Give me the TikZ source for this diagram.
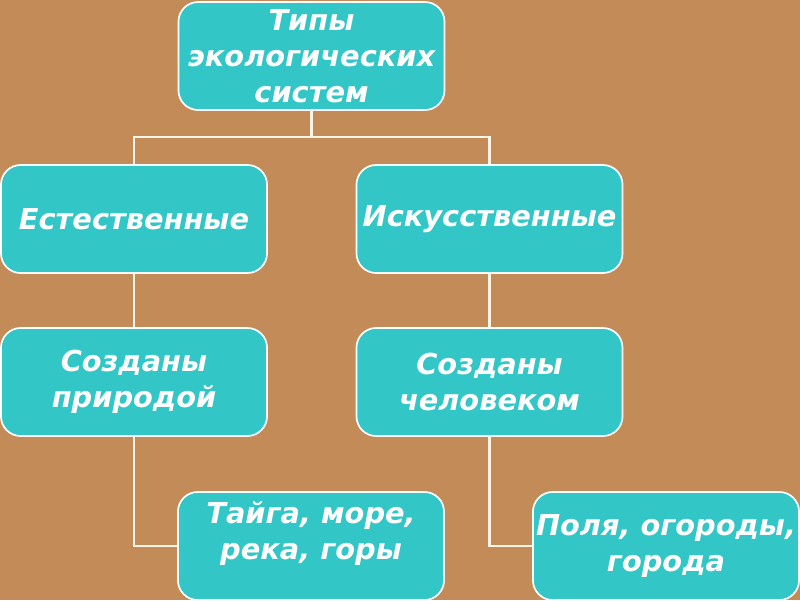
\documentclass[tikz,border=0pt]{standalone}
\usepackage{fontspec}
\setmainfont{DejaVu Sans}
\definecolor{sand}{RGB}{194,139,88}
\definecolor{sea}{RGB}{51,198,198}
\definecolor{cream}{RGB}{252,244,228}
\begin{document}
\begin{tikzpicture}[
  x=0.025cm, y=-0.025cm,
  every node/.style = {shape=rectangle, rounded corners=14pt, draw=white,
    line width=1.2pt, fill=sea, text=white, align=center, inner sep=2pt,
    font=\fontsize{20.5}{25.5}\selectfont\bfseries\itshape},
  box/.style = {minimum width=6.65cm, minimum height=2.7cm},
  link/.style = {draw=cream, line width=1.8pt}
  ]
  \fill[sand] (0,0) rectangle (800,600);
  \useasboundingbox (0,0) rectangle (800,600);
  % top level
  \node[box] (top) at (311.5,56) {Типы\\экологических\\систем};
  % two kinds
  \node[box] (nat) at (134,219) {Естественные};
  \node[box] (art) at (489.5,219) {Искусственные};
  \node[box] (natby) at (134,382) {Созданы\\природой};
  \node[box] (artby) at (489.5,382) {Созданы\\человеком};
  % examples
  \node[box, text height=45pt, text depth=25.5pt] (natex) at (311,546) {Тайга, море,\\река, горы};
  \node[box] (artex) at (666,546) {Поля, огороды,\\города};
  % links
  \draw[link] (top.south) -- ++(0,26) -| (nat.north);
  \draw[link] (top.south) -- ++(0,26) -| (art.north);
  \draw[link] (nat.south) -- (natby.north);
  \draw[link] (art.south) -- (artby.north);
  \draw[link] (natby.south) |- (natex.west);
  \draw[link] (artby.south) |- (artex.west);
\end{tikzpicture}
\end{document}
